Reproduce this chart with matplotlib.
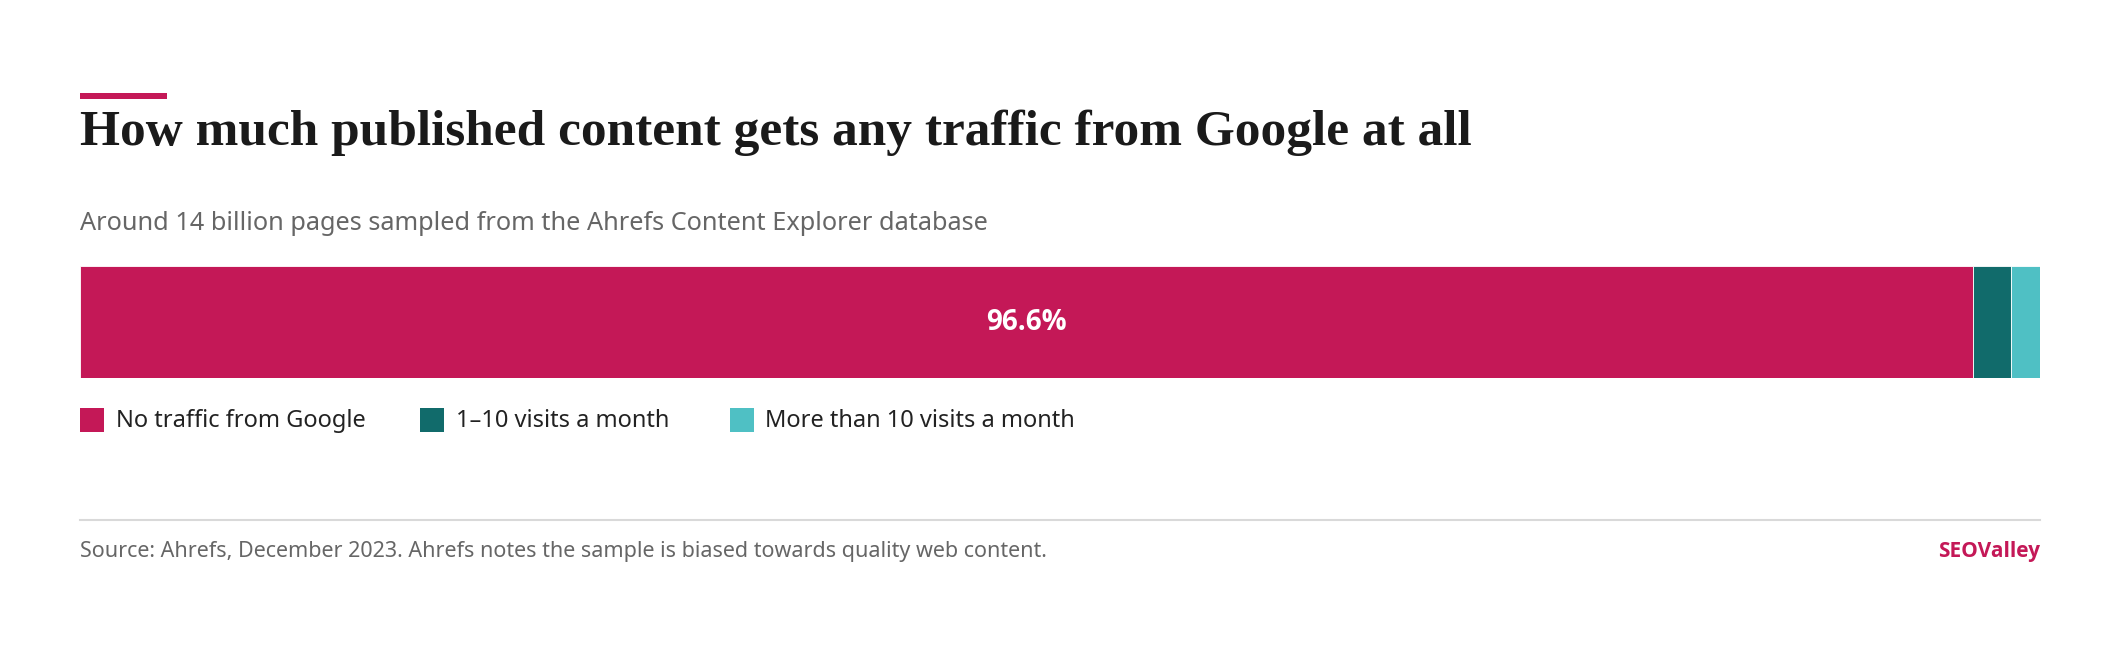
import matplotlib.pyplot as plt
from matplotlib.patches import Rectangle
from matplotlib.lines import Line2D

categories = ["No traffic from Google", "1–10 visits a month", "More than 10 visits a month"]
shares = [96.6, 1.9, 1.5]
colors = ["#c41857", "#116b6b", "#4fc0c4"]

W, H = 2120, 650
fig = plt.figure(figsize=(W / 100, H / 100), dpi=100)
fig.patch.set_facecolor("white")


def fx(px):
    return px / W


def fy(py):
    return 1 - py / H


# accent line + title
fig.add_artist(Rectangle((fx(80), fy(99)), fx(87), 6 / H, color="#c41857", lw=0))
fig.text(fx(80), fy(145), "How much published content gets any traffic from Google at all",
         family=["Liberation Serif", "DejaVu Serif"], weight="bold", size=37,
         color="#1a1a1a", va="baseline")
fig.text(fx(80), fy(224), "Around 14 billion pages sampled from the Ahrefs Content Explorer database",
         family="Noto Sans", size=18.2, color="#666666", va="center")

# stacked bar
ax = fig.add_axes([fx(80), fy(378), fx(1960), (378 - 266) / H])
left = 0
for val, col in zip(shares, colors):
    ax.barh(0, val, left=left, color=col, height=1, edgecolor="white", linewidth=0.6)
    left += val
ax.set_xlim(0, sum(shares))
ax.set_ylim(-0.5, 0.5)
ax.axis("off")
ax.text(shares[0] / 2, 0, f"{shares[0]:.1f}%", ha="center", va="center",
        color="white", weight="bold", size=20, family=["Open Sans", "DejaVu Sans"])

# legend
for sx, tx, lab, col in zip([80, 420, 730], [116, 456, 765], categories, colors):
    fig.add_artist(Rectangle((fx(sx), fy(432)), fx(24), 24 / H, color=col, lw=0))
    fig.text(fx(tx), fy(421), lab, family="Noto Sans", size=17, color="#222222", va="center")

# footer
fig.add_artist(Line2D([fx(80), fx(2040)], [fy(520), fy(520)], color="#d9d9d9", lw=1.5))
fig.text(fx(80), fy(551), "Source: Ahrefs, December 2023. Ahrefs notes the sample is biased towards quality web content.",
         family="Noto Sans", size=15.5, color="#666666", va="center")
fig.text(fx(2040), fy(551), "SEOValley", family=["Open Sans", "DejaVu Sans"], size=15, weight="bold",
         color="#c41857", va="center", ha="right")

fig.savefig("out.png", dpi=100)
